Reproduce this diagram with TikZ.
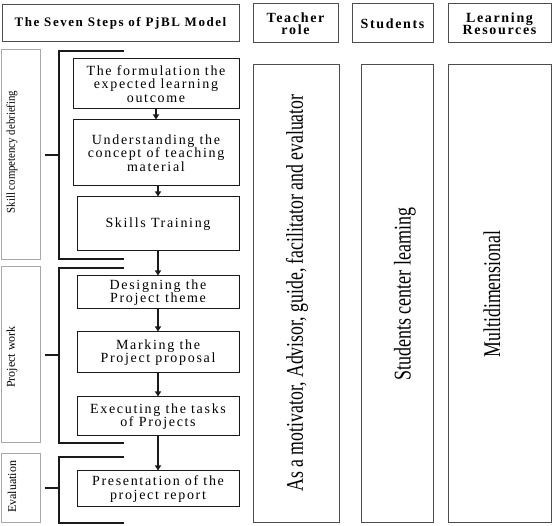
\documentclass[tikz,border=0pt]{standalone}
\usepackage{fontspec}
\setmainfont{Liberation Serif}
\newfontfamily\spacedfont[LetterSpace=12]{Liberation Serif}
\definecolor{pjblDark}{HTML}{1A1A1A}
\definecolor{pjblGrey}{HTML}{4D4D4D}
\definecolor{pjblLightGrey}{HTML}{A8A8A8}
\usetikzlibrary{arrows.meta, calc}
\tikzset{
    head node/.style={rectangle, draw=pjblGrey, line width=1pt, align=center, inner sep=0pt, font=\spacedfont\bfseries\fontsize{14}{12.5}\selectfont},
    step node/.style={rectangle, draw=pjblDark, line width=1pt, align=center, inner sep=0pt, minimum width=162pt, font=\spacedfont\fontsize{14}{13.5}\selectfont},
    phase node/.style={rectangle, draw=pjblLightGrey, line width=1pt, minimum width=39pt},
    phase label/.style={rotate=90, inner sep=0pt, font=\fontsize{12}{12}\selectfont},
    column node/.style={rectangle, draw=pjblGrey, line width=1pt, minimum height=458pt},
    column label/.style={rotate=90, inner sep=0pt, font=\fontsize{24}{24}\selectfont},
    arrow style/.style={-{Triangle[length=5pt, width=6pt]}, line width=1.6pt, pjblDark},
    bracket style/.style={line width=2pt, pjblDark},
}
\begin{document}
\begin{tikzpicture}[x=1pt, y=-1pt]
    \useasboundingbox (0,0) rectangle (558,526);

    % header row
    \node[head node, minimum width=237pt, minimum height=37pt, font=\spacedfont\bfseries\fontsize{13}{12}\selectfont] (title) at (120.5,23.5) {The Seven Steps of PjBL Model};
    \node[head node, minimum width=85pt, minimum height=39pt] (teacherhead) at (295.5,23.5) {Teacher\\role};
    \node[head node, minimum width=81pt, minimum height=39pt] (studenthead) at (392.5,23.5) {Students};
    \node[head node, minimum width=103pt, minimum height=39pt] (resourcehead) at (499.5,23.5) {Learning\\Resources};

    % phases on the left
    \node[phase node, minimum height=210pt] (skillphase) at (20.5,155) {};
    \node[phase node, minimum height=176pt] (projectphase) at (20.5,355) {};
    \node[phase node, minimum height=69pt] (evalphase) at (20.5,488.5) {};
    \node[phase label] (skilltext) at (12,152) {\scalebox{0.9}[1]{Skill competency debriefing}};
    \node[phase label] (projecttext) at (12,357) {Project work};
    \node[phase label] (evaltext) at (12,487) {Evaluation};

    % brackets
    \draw[bracket style] (124,51) -| (59,259) -- (124,259);
    \draw[bracket style] ([xshift=4pt]skillphase.east) -- ++(15,0);
    \draw[bracket style] (124,268) -| (59,443) -- (124,443);
    \draw[bracket style] ([xshift=4pt]projectphase.east) -- ++(15,0);
    \draw[bracket style] (124,457) -| (59,523) -- (124,523);
    \draw[bracket style] ([xshift=4pt]evalphase.east) -- ++(15,0);

    % the seven steps
    \node[step node, minimum width=166pt, minimum height=50pt] (formulate) at (156,84) {The formulation the\\expected learning\\outcome};
    \node[step node, minimum width=166pt, minimum height=66pt] (understand) at (156,153) {Understanding the\\concept of teaching\\material};
    \node[step node, minimum height=54pt] (skills) at (158,224) {Skills Training};
    \node[step node, minimum height=33pt] (design) at (158,292.5) {Designing the\\Project theme};
    \node[step node, minimum height=41pt] (marking) at (158,352.5) {Marking the\\Project proposal};
    \node[step node, minimum height=39pt] (execute) at (158,416.5) {Executing the tasks\\of Projects};
    \node[step node, minimum height=36pt] (present) at (158,489) {Presentation of the\\project report};

    \draw[arrow style] (formulate) -- (understand);
    \draw[arrow style] (skills.north |- understand.south) -- (skills.north);
    \draw[arrow style] (skills) -- (design);
    \draw[arrow style] (design) -- (marking);
    \draw[arrow style] (marking) -- (execute);
    \draw[arrow style] (execute) -- (present);

    % right columns
    \node[column node, minimum width=86pt] (teachercol) at (296,294) {};
    \node[column node, minimum width=72pt] (studentcol) at (397,294) {};
    \node[column node, minimum width=103pt] (resourcecol) at (499.5,294) {};
    \node[column label] (teachertext) at (297,293) {\scalebox{0.74}[1]{As a motivator, Advisor, guide, facilitator and evaluator}};
    \node[column label] (studenttext) at (405,294) {\scalebox{0.75}[1]{Students center learning}};
    \node[column label] (resourcetext) at (492,294) {\scalebox{0.74}[1]{Multidimensional}};
\end{tikzpicture}
\end{document}
